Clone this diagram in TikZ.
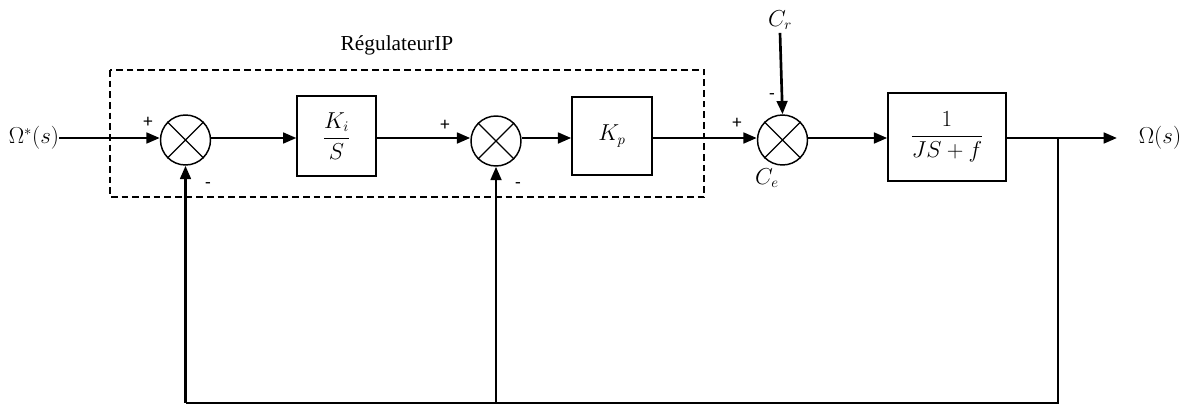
\documentclass[tikz,border=0pt]{standalone}
\usepackage{amsmath}
\usepackage{fontspec}
\setmainfont{Liberation Serif}
\newfontfamily\signfont{Carlito}
\usetikzlibrary{arrows.meta}
\tikzset{
  blk/.style={draw, line width=1.1pt, inner sep=0pt, font=\fontsize{16}{18}\selectfont},
  sumnode/.style={draw, circle, line width=1.1pt, minimum size=37.5pt, inner sep=0pt},
  sig/.style={line width=2pt, -{Triangle[length=10pt,width=8pt]}},
  fb/.style={line width=1.5pt},
  sgn/.style={font=\signfont\fontsize{14}{16}\selectfont, inner sep=0pt},
  lbl/.style={font=\fontsize{16}{18}\selectfont, inner sep=0pt},
}
\newcommand{\crossin}[1]{\draw[line width=0.9pt] (#1.north west) -- (#1.south east) (#1.north east) -- (#1.south west);}
\begin{document}
\begin{tikzpicture}[x=0.75pt,y=-0.75pt]
\useasboundingbox (0,0) rectangle (1202,407);
% dashed regulator box
\draw[line width=1.4pt, dash pattern=on 5pt off 3pt] (110,70) rectangle (704,197);
\node[font=\fontsize{16}{18}\selectfont] (reg) at (397,45) {RégulateurIP};
% nodes
\node[lbl] (in) at (34,138) {$\Omega^{*}(s)$};
\node[sumnode] (s1) at (185.5,140) {};
\crossin{s1}
\node[blk, minimum width=59pt, minimum height=60pt] (b1) at (336.5,136) {$\dfrac{K_i}{S}$};
\node[sumnode] (s2) at (496,141) {};
\crossin{s2}
\node[blk, minimum width=60pt, minimum height=58.5pt] (b2) at (612,136) {$K_p$};
\node[sumnode] (s3) at (782.5,140) {};
\crossin{s3}
\node[lbl] (cr) at (780,20) {$C_r$};
\node[lbl] (ce) at (767,178) {$C_e$};
\node[blk, minimum width=88.5pt, minimum height=66pt] (b3) at (947,137) {$\dfrac{1}{JS+f}$};
\node[lbl] (out) at (1160,138) {$\Omega(s)$};
\coordinate (tip) at (1117,138);
\coordinate (br) at (1058,138);
\coordinate (brb) at (1058,403);
\coordinate (f1) at (185.5,403);
\coordinate (f2) at (496,403);
% signs
\node[sgn] (p1) at (148,122) {+};
\node[sgn] (m1) at (208,186) {-};
\node[sgn] (p2) at (445,125) {+};
\node[sgn] (m2) at (518,186) {-};
\node[sgn] (p3) at (737,123) {+};
\node[sgn] (m3) at (772,97) {-};
% signals
\draw[sig] (in.east |- 0,138) -- (s1.west |- 0,138);
\draw[sig] (s1.east |- 0,138) -- (b1.west |- 0,138);
\draw[sig] (b1.east |- 0,138) -- (s2.west |- 0,138);
\draw[sig] (s2.east |- 0,138) -- (b2.west |- 0,138);
\draw[sig] (b2.east |- 0,138) -- (s3.west |- 0,138);
\draw[sig] (cr.south) ++(0,3) -- (s3.north);
\draw[sig] (s3.east |- 0,138) -- (b3.west |- 0,138);
\draw[sig] (b3.east |- 0,138) -- (tip);
% feedback
\draw[fb] (br) -- (brb) -- (f1);
\draw[sig] (f1) -- (s1.south);
\draw[sig] (f2) -- (s2.south);
\end{tikzpicture}
\end{document}
